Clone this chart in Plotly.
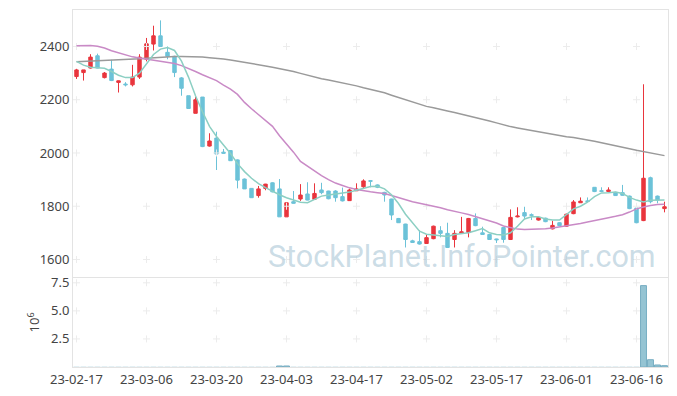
import pandas as pd
import plotly.graph_objects as go

# Trading days (KRX calendar, Feb 17 - Jun 22 2023)
holidays = ["2023-03-01", "2023-05-01", "2023-05-05", "2023-05-29", "2023-06-06"]
dates = [d.strftime("%y-%m-%d") for d in pd.bdate_range("2023-02-17", "2023-06-22", freq="C", holidays=holidays)]

open_ = [2287, 2302, 2319, 2365, 2283, 2315, 2265, 2259, 2256, 2285,
         2352, 2409, 2440, 2378, 2363, 2282, 2215, 2149, 2210, 2026,
         2056, 2003, 2009, 1974, 1902, 1867, 1840, 1867, 1888, 1865,
         1760, 1817, 1827, 1846, 1826, 1861, 1857, 1857, 1836, 1821,
         1858, 1873, 1896, 1880, 1852, 1827, 1754, 1733, 1670, 1667,
         1660, 1678, 1708, 1698, 1675, 1698, 1701, 1754, 1700, 1694,
         1677, 1720, 1675, 1760, 1776, 1768, 1748, 1755, 1715, 1738,
         1725, 1772, 1813, 1820, 1871, 1858, 1855, 1852, 1851, 1838,
         1793, 1746, 1907, 1838, 1791]
high = [2316, 2312, 2371, 2373, 2304, 2350, 2272, 2266, 2331, 2371,
        2432, 2478, 2498, 2400, 2365, 2285, 2215, 2210, 2210, 2074,
        2080, 2015, 2010, 1976, 1904, 1868, 1876, 1884, 1890, 1902,
        1815, 1857, 1883, 1890, 1886, 1888, 1858, 1860, 1870, 1866,
        1886, 1901, 1898, 1882, 1854, 1828, 1756, 1734, 1674, 1710,
        1692, 1727, 1725, 1738, 1710, 1760, 1756, 1773, 1723, 1696,
        1678, 1722, 1788, 1796, 1798, 1773, 1760, 1757, 1745, 1740,
        1772, 1823, 1833, 1833, 1872, 1871, 1871, 1854, 1880, 1840,
        1795, 2258, 1911, 1840, 1817]
low = [2278, 2272, 2317, 2318, 2280, 2270, 2227, 2250, 2250, 2278,
       2344, 2385, 2398, 2352, 2285, 2215, 2167, 2149, 2022, 2024,
       1936, 1998, 1970, 1867, 1865, 1832, 1832, 1860, 1852, 1760,
       1760, 1810, 1820, 1822, 1824, 1845, 1826, 1817, 1818, 1820,
       1857, 1867, 1871, 1868, 1817, 1748, 1737, 1645, 1662, 1656,
       1659, 1676, 1683, 1643, 1645, 1697, 1683, 1725, 1693, 1674,
       1662, 1663, 1673, 1758, 1753, 1748, 1746, 1740, 1713, 1725,
       1723, 1770, 1812, 1817, 1853, 1855, 1854, 1839, 1840, 1789,
       1736, 1744, 1811, 1811, 1777]
close = [2312, 2312, 2360, 2319, 2300, 2272, 2271, 2256, 2285, 2360,
         2410, 2440, 2400, 2363, 2302, 2243, 2167, 2200, 2024, 2045,
         1996, 1999, 1971, 1898, 1865, 1832, 1865, 1883, 1854, 1760,
         1813, 1811, 1842, 1823, 1848, 1851, 1828, 1832, 1820, 1861,
         1865, 1895, 1894, 1871, 1842, 1767, 1738, 1675, 1664, 1658,
         1682, 1725, 1698, 1645, 1698, 1704, 1754, 1727, 1694, 1675,
         1674, 1675, 1758, 1763, 1763, 1766, 1758, 1742, 1728, 1727,
         1770, 1816, 1819, 1818, 1855, 1856, 1861, 1840, 1841, 1791,
         1738, 1905, 1817, 1823, 1798]

ma5 = [2344, 2330, 2322, 2320, 2318, 2306, 2292, 2283, 2283, 2300,
       2335, 2370, 2390, 2396, 2385, 2345, 2285, 2215, 2155, 2100,
       2062, 2030, 1998, 1960, 1930, 1905, 1885, 1870, 1855, 1843,
       1832, 1823, 1815, 1813, 1825, 1838, 1842, 1845, 1848, 1853,
       1860, 1867, 1874, 1875, 1865, 1843, 1810, 1770, 1738, 1706,
       1695, 1692, 1690, 1686, 1694, 1697, 1700, 1708, 1716, 1700,
       1694, 1692, 1700, 1725, 1752, 1760, 1760, 1752, 1748, 1748,
       1770, 1790, 1800, 1815, 1836, 1850, 1851, 1853, 1848, 1833,
       1823, 1816, 1822, 1823, 1823]
ma20 = [2403, 2404, 2404, 2401, 2394, 2384, 2376, 2368, 2361, 2357,
        2353, 2350, 2346, 2342, 2336, 2328, 2318, 2306, 2294, 2283,
        2272, 2255, 2240, 2220, 2190, 2166, 2145, 2122, 2100, 2065,
        2035, 2003, 1968, 1950, 1932, 1915, 1900, 1887, 1878, 1869,
        1863, 1858, 1854, 1851, 1848, 1840, 1832, 1824, 1817, 1811,
        1806, 1800, 1794, 1787, 1780, 1775, 1769, 1761, 1753, 1747,
        1737, 1726, 1720, 1714, 1713, 1713, 1713, 1715, 1718, 1722,
        1726, 1729, 1735, 1741, 1747, 1752, 1757, 1762, 1768, 1778,
        1790, 1797, 1803, 1806, 1807]
ma120 = [2343, 2344, 2345, 2346, 2347, 2348, 2349, 2350, 2352, 2354,
         2356, 2358, 2360, 2361, 2362, 2362, 2362, 2361, 2360, 2358,
         2356, 2353, 2349, 2345, 2341, 2337, 2332, 2327, 2322, 2317,
         2312, 2306, 2299, 2292, 2284, 2279, 2274, 2269, 2264, 2258,
         2252, 2245, 2239, 2232, 2226, 2217, 2208, 2199, 2190, 2181,
         2175, 2170, 2165, 2158, 2152, 2146, 2140, 2134, 2127, 2120,
         2113, 2105, 2099, 2094, 2089, 2084, 2080, 2075, 2069, 2065,
         2061, 2058, 2054, 2049, 2044, 2038, 2033, 2028, 2022, 2016,
         2010, 2005, 2000, 1995, 1990]

# volume in millions of shares
volume = [0.015] * 29 + [0.09, 0.09] + [0.015] * 50 + [7.25, 0.65, 0.18, 0.12]

price_ticks = [1600, 1800, 2000, 2200, 2400]
vol_ticks = [2.5, 5.0, 7.5]
vol_tick_text = ["2.5", "5.0", "7.5"]
x_ticks = dates[::10]

UP = "#e9353d"
DOWN = "#6cc2d8"
GRID = "#ececec"
FONT = "Noto Sans"

fig = go.Figure()

# grid crosses
gx, gy = [], []
for xv in x_ticks:
    for yv in price_ticks:
        gx.append(xv); gy.append(yv)
fig.add_trace(go.Scatter(x=gx, y=gy, mode="markers", xaxis="x", yaxis="y",
                         marker=dict(symbol="cross-thin", size=5, line=dict(color=GRID, width=1)),
                         hoverinfo="skip", showlegend=False))
vx, vy = [], []
for xv in x_ticks:
    for yv in vol_ticks:
        vx.append(xv); vy.append(yv)
fig.add_trace(go.Scatter(x=vx, y=vy, mode="markers", xaxis="x2", yaxis="y2",
                         marker=dict(symbol="cross-thin", size=5, line=dict(color=GRID, width=1)),
                         hoverinfo="skip", showlegend=False))

fig.add_trace(go.Scatter(x=dates, y=ma120, mode="lines", line=dict(color="#9a9a9a", width=1.5),
                         xaxis="x", yaxis="y", showlegend=False))
fig.add_trace(go.Scatter(x=dates, y=ma20, mode="lines", line=dict(color="#c98ac6", width=1.5),
                         xaxis="x", yaxis="y", showlegend=False))
fig.add_trace(go.Scatter(x=dates, y=ma5, mode="lines", line=dict(color="#8ccfc3", width=1.5),
                         xaxis="x", yaxis="y", showlegend=False))

fig.add_trace(go.Candlestick(x=dates, open=open_, high=high, low=low, close=close,
                             xaxis="x", yaxis="y", showlegend=False,
                             increasing=dict(line=dict(color=UP, width=1), fillcolor=UP),
                             decreasing=dict(line=dict(color=DOWN, width=1), fillcolor=DOWN)))

bar_outline = [1 if v > 0.05 else 0 for v in volume]
fig.add_trace(go.Bar(x=dates, y=volume, xaxis="x2", yaxis="y2", showlegend=False,
                     marker=dict(color="#95c4d3", line=dict(color="#78aec3", width=bar_outline)),
                     width=0.85))

axis_common = dict(showline=True, linecolor="#e3e3e3", linewidth=1, mirror=True,
                   showgrid=False, zeroline=False, ticks="", automargin=False,
                   tickfont=dict(family=FONT, size=13, color="#444"))

# the page body adds an 8px offset, so the figure is 8px smaller and margins are shifted
fig.update_layout(
    width=669, height=388,
    margin=dict(l=65, r=9, t=2, b=29, autoexpand=False),
    paper_bgcolor="white", plot_bgcolor="white",
    showlegend=False,
    xaxis=dict(**axis_common, type="category", categoryorder="array", categoryarray=dates,
               range=[-0.5, len(dates) - 0.5], domain=[0, 1], anchor="y",
               showticklabels=False, rangeslider=dict(visible=False), matches="x2"),
    yaxis=dict(**axis_common, domain=[0.252, 1], range=[1534, 2537],
               tickvals=price_ticks, anchor="x"),
    xaxis2=dict(**axis_common, type="category", categoryorder="array", categoryarray=dates,
                range=[-0.5, len(dates) - 0.5], domain=[0, 1], anchor="y2",
                tickvals=x_ticks, ticktext=x_ticks),
    yaxis2=dict(**axis_common, domain=[0, 0.25], range=[0, 7.95],
                tickvals=vol_ticks, ticktext=vol_tick_text, anchor="x2",
                title=dict(text="10<sup>6</sup>", font=dict(family=FONT, size=13, color="#444"),
                           standoff=8)),
    bargap=0.15,
)

fig.add_annotation(text="StockPlanet.InfoPointer.com", xref="paper", yref="paper",
                   x=0.653, y=0.31, xanchor="center", yanchor="middle", showarrow=False,
                   font=dict(family="Roboto", size=30.5, color="rgba(165,195,212,0.58)"))

fig.write_html("out.html")
